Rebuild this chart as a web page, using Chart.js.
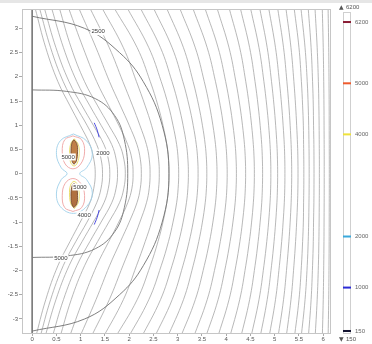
<!DOCTYPE html>
<html><head><meta charset="utf-8">
<style>html,body{margin:0;padding:0;background:#fff}#wrap{width:372px;height:344px}</style>
<script src="https://cdn.jsdelivr.net/npm/chart.js@4.4.1/dist/chart.umd.min.js"></script>
</head><body><div id="wrap"><canvas id="c" width="372" height="344"></canvas></div>
<script>
// Heights at which each streamline is sampled (upper half; the field is mirror-symmetric about y = 0)
const levelY = [3.42, 2.6, 1.9, 1.4, 1.0, 0.6, 0.3, 0];
// x position of every streamline at the heights above
const streamX = [
  [0.06, 0.28, 0.53, 0.78, 0.99, 1.19, 1.27, 1.30],
  [0.15, 0.38, 0.64, 0.90, 1.13, 1.33, 1.42, 1.45],
  [0.25, 0.49, 0.76, 1.03, 1.26, 1.48, 1.57, 1.60],
  [0.40, 0.645, 0.92, 1.19, 1.42, 1.64, 1.73, 1.76],
  [0.56, 0.805, 1.08, 1.35, 1.58, 1.80, 1.89, 1.92],
  [0.75, 1.05, 1.33, 1.58, 1.785, 1.97, 2.056, 2.08],
  [0.96, 1.316, 1.595, 1.82, 2.00, 2.16, 2.229, 2.25],
  [1.19, 1.59, 1.87, 2.07, 2.22, 2.356, 2.413, 2.43],
  [1.44, 1.88, 2.15, 2.33, 2.46, 2.56, 2.606, 2.62],
  [1.69, 2.165, 2.435, 2.594, 2.696, 2.775, 2.809, 2.82],
  [1.96, 2.405, 2.66, 2.81, 2.903, 2.978, 3.009, 3.02],
  [2.23, 2.646, 2.883, 3.022, 3.111, 3.18, 3.21, 3.22],
  [2.50, 2.886, 3.107, 3.236, 3.319, 3.383, 3.411, 3.42],
  [2.77, 3.119, 3.318, 3.434, 3.509, 3.567, 3.592, 3.60],
  [3.04, 3.363, 3.548, 3.656, 3.725, 3.779, 3.802, 3.81],
  [3.31, 3.608, 3.779, 3.878, 3.942, 3.992, 4.013, 4.02],
  [3.56, 3.833, 3.989, 4.08, 4.138, 4.184, 4.203, 4.21],
  [3.81, 4.058, 4.199, 4.282, 4.335, 4.376, 4.394, 4.40],
  [4.06, 4.278, 4.403, 4.476, 4.523, 4.559, 4.575, 4.58],
  [4.29, 4.483, 4.594, 4.658, 4.699, 4.732, 4.745, 4.75],
  [4.50, 4.676, 4.777, 4.836, 4.874, 4.903, 4.916, 4.92],
  [4.69, 4.845, 4.934, 4.986, 5.019, 5.045, 5.056, 5.06],
  [4.875, 5.016, 5.096, 5.143, 5.173, 5.197, 5.207, 5.21],
  [5.06, 5.182, 5.251, 5.292, 5.318, 5.338, 5.347, 5.35],
  [5.23, 5.335, 5.395, 5.43, 5.452, 5.47, 5.4775, 5.48],
  [5.40, 5.50, 5.55, 5.575, 5.59, 5.595, 5.599, 5.60],
  [5.54, 5.625, 5.67, 5.69, 5.70, 5.706, 5.709, 5.71],
  [5.69, 5.75, 5.78, 5.795, 5.80, 5.807, 5.809, 5.81],
  [5.83, 5.875, 5.90, 5.91, 5.915, 5.918, 5.92, 5.92],
  [5.98, 6.00, 6.01, 6.015, 6.017, 6.019, 6.02, 6.02],
  [6.10, 6.1125, 6.119, 6.122, 6.123, 6.124, 6.125, 6.125]
];

// Labelled potential contours (upper half)
const outerY = [3.25, 3.0, 2.5, 1.9, 1.0, 0];
const outerX = [0, 1.08, 1.80, 2.29, 2.68, 2.82];
const innerY = [1.73, 1.70, 1.55, 1.2, 0.7, 0];
const innerX = [0, 0.70, 1.30, 1.70, 1.90, 1.97];

// Contours round the upper conductor (the lower one mirrors it)
const pinkX = [0.84, 1.02, 1.08, 1.00, 0.84, 0.68, 0.62, 0.67, 0.84];
const pinkY = [0.78, 0.70, 0.45, 0.20, 0.10, 0.20, 0.45, 0.70, 0.78];
const yellowX = [0.87, 0.95, 0.97, 0.93, 0.86, 0.79, 0.77, 0.80, 0.87];
const yellowY = [0.72, 0.60, 0.42, 0.22, 0.16, 0.24, 0.44, 0.63, 0.72];
const condX = [0.86, 0.92, 0.935, 0.91, 0.86, 0.815, 0.80, 0.82, 0.86];
const condY = [0.70, 0.62, 0.45, 0.26, 0.20, 0.28, 0.47, 0.64, 0.70];
// Contour enclosing both conductors
const blueX = [0.85, 1.12, 1.24, 1.12, 0.98, 1.12, 1.24, 1.12, 0.85, 0.58, 0.50, 0.60, 0.72, 0.60, 0.50, 0.58, 0.85];
const blueY = [0.82, 0.68, 0.40, 0.12, 0, -0.12, -0.40, -0.68, -0.82, -0.68, -0.40, -0.12, 0, 0.12, 0.40, 0.68, 0.82];
const arcX = [1.28, 1.34, 1.38];
const arcY = [1.05, 0.90, 0.75];

// Contour labels
const labelText = ['2500', '5000', '5000', '2000', '5000', '4000'];
const labelX = [1.36, 0.59, 0.74, 1.46, 0.985, 1.07];
const labelY = [2.93, -1.745, 0.345, 0.43, -0.275, -0.85];

// Axis ticks
const xTicks = [0, 0.5, 1, 1.5, 2, 2.5, 3, 3.5, 4, 4.5, 5, 5.5, 6];
const yTicks = [-3, -2.5, -2, -1.5, -1, -0.5, 0, 0.5, 1, 1.5, 2, 2.5, 3];
// Colour legend
const cbTicks = [6200, 5000, 4000, 2000, 1000, 150];
const cbColors = ['#8a1c34', '#ee5a2c', '#efe23a', '#3aa9dc', '#2b2bd6', '#141432'];
const cbMax = 6200, cbMin = 150;

const pts = (xs, ys) => xs.map((x, i) => ({x, y: ys[i]}));
// upper half followed by its mirror image
const mirrored = (xs, ys) => [
  ...pts(xs, ys),
  ...xs.slice(0, -1).map((x, i) => ({x, y: -ys[i]})).reverse()
];
const flip = ys => ys.map(y => -y);

const line = (data, color, width, order, extra) => Object.assign({
  data, borderColor: color, borderWidth: width, tension: 0.4,
  pointRadius: 0, showLine: true, fill: false, order
}, extra || {});

const datasets = [];
streamX.forEach(xs => datasets.push(line(mirrored(xs, levelY), '#a6a6a6', 0.8, 6)));
datasets.push(line([{x: 0, y: 3.5}, {x: 0, y: -3.5}], '#7a7a7a', 1, 5, {tension: 0}));
datasets.push(line(mirrored(outerX, outerY), '#707070', 0.9, 4));
datasets.push(line(mirrored(innerX, innerY), '#767676', 0.9, 4));
datasets.push(line(pts(blueX, blueY), '#9fd0ea', 0.9, 3));
datasets.push(line(pts(arcX, arcY), '#4a4ae0', 1, 3));
datasets.push(line(pts(arcX, flip(arcY)), '#4a4ae0', 1, 3));
datasets.push(line(pts(pinkX, pinkY), '#eea3a3', 0.9, 3));
datasets.push(line(pts(pinkX, flip(pinkY)), '#eea3a3', 0.9, 3));
datasets.push(line(pts(yellowX, yellowY), '#e6d54a', 0.8, 2));
datasets.push(line(pts(yellowX, flip(yellowY)), '#e6d54a', 0.8, 2));
datasets.push(line(pts(condX, condY), '#6b3f22', 0.8, 1, {fill: 'shape', backgroundColor: '#c08048'}));
datasets.push(line(pts(condX, flip(condY)), '#6b3f22', 0.8, 1, {fill: 'shape', backgroundColor: '#b07040'}));

const FONT = 'Liberation Sans, Arial, sans-serif';

const decor = {
  id: 'decor',
  afterDatasetsDraw(chart) {
    const {ctx, scales: {x, y}} = chart;
    ctx.save();
    ctx.font = '6px ' + FONT;
    ctx.textAlign = 'center';
    ctx.textBaseline = 'middle';
    labelText.forEach((t, i) => {
      const px = x.getPixelForValue(labelX[i]);
      const py = y.getPixelForValue(labelY[i]);
      const w = ctx.measureText(t).width;
      ctx.fillStyle = '#fff';
      ctx.fillRect(px - w / 2 - 1, py - 3.5, w + 2, 7);
      ctx.fillStyle = '#3a3a3a';
      ctx.fillText(t, px, py);
    });
    ctx.restore();
  },
  afterDraw(chart) {
    const {ctx, chartArea: a, scales: {cb}} = chart;
    ctx.save();
    // window strip along the top
    ctx.fillStyle = '#e6e6e6';
    ctx.fillRect(0, 0, chart.width, 3);
    // plot frame
    ctx.strokeStyle = '#c6c6c6';
    ctx.lineWidth = 1;
    ctx.strokeRect(a.left + 0.5, a.top + 0.5, a.width - 1, a.height - 1);
    // colour legend bar
    const bx = cb.left + 12;
    ctx.strokeStyle = '#cfcfcf';
    ctx.strokeRect(bx + 0.5, a.top + 3.5, 7, a.height - 4);
    cbTicks.forEach((v, i) => {
      const py = cb.getPixelForValue(v);
      ctx.fillStyle = cbColors[i];
      ctx.fillRect(bx, py - 1, 8, 2);
    });
    ctx.fillStyle = '#555';
    ctx.textBaseline = 'middle';
    ctx.textAlign = 'left';
    ctx.font = '6px DejaVu Sans, sans-serif';
    ctx.fillText('\u25B2', bx - 4, 7);
    ctx.fillText('\u25BC', bx - 4, 339);
    ctx.font = '6px ' + FONT;
    ctx.fillText(String(cbMax), bx + 3, 7);
    ctx.fillText(String(cbMin), bx + 3, 339);
    ctx.restore();
  }
};

const tickFont = {size: 6, family: FONT};
new Chart(document.getElementById('c'), {
  type: 'scatter',
  data: {datasets},
  options: {
    responsive: false,
    devicePixelRatio: 1,
    animation: false,
    layout: {padding: {top: 9, left: 0, right: 0, bottom: 0}},
    plugins: {legend: {display: false}, tooltip: {enabled: false}},
    scales: {
      x: {
        type: 'linear', min: -0.21, max: 6.16,
        afterBuildTicks: s => { s.ticks = xTicks.map(v => ({value: v})); },
        afterFit: s => { s.height = 10; },
        ticks: {font: tickFont, color: '#555', padding: 0, maxRotation: 0, autoSkip: false, callback: v => String(v)},
        grid: {display: true, drawOnChartArea: false, drawTicks: true, tickLength: 2, color: '#aaa'},
        border: {display: false}
      },
      y: {
        type: 'linear', min: -3.31, max: 3.40,
        afterBuildTicks: s => { s.ticks = yTicks.map(v => ({value: v})); },
        afterFit: s => { s.width = 22; },
        ticks: {font: tickFont, color: '#555', padding: 1, autoSkip: false, callback: v => String(v)},
        grid: {display: true, drawOnChartArea: false, drawTicks: true, tickLength: 3, color: '#aaa'},
        border: {display: false}
      },
      cb: {
        type: 'linear', position: 'right', min: 91, max: 6455,
        afterBuildTicks: s => { s.ticks = cbTicks.map(v => ({value: v})); },
        afterFit: s => { s.width = 41; },
        ticks: {font: tickFont, color: '#666', padding: 2, autoSkip: false, callback: v => String(v)},
        grid: {display: true, drawOnChartArea: false, drawTicks: true, tickLength: 22, color: 'rgba(0,0,0,0)'},
        border: {display: false}
      }
    }
  },
  plugins: [decor]
});
</script>
</body></html>
